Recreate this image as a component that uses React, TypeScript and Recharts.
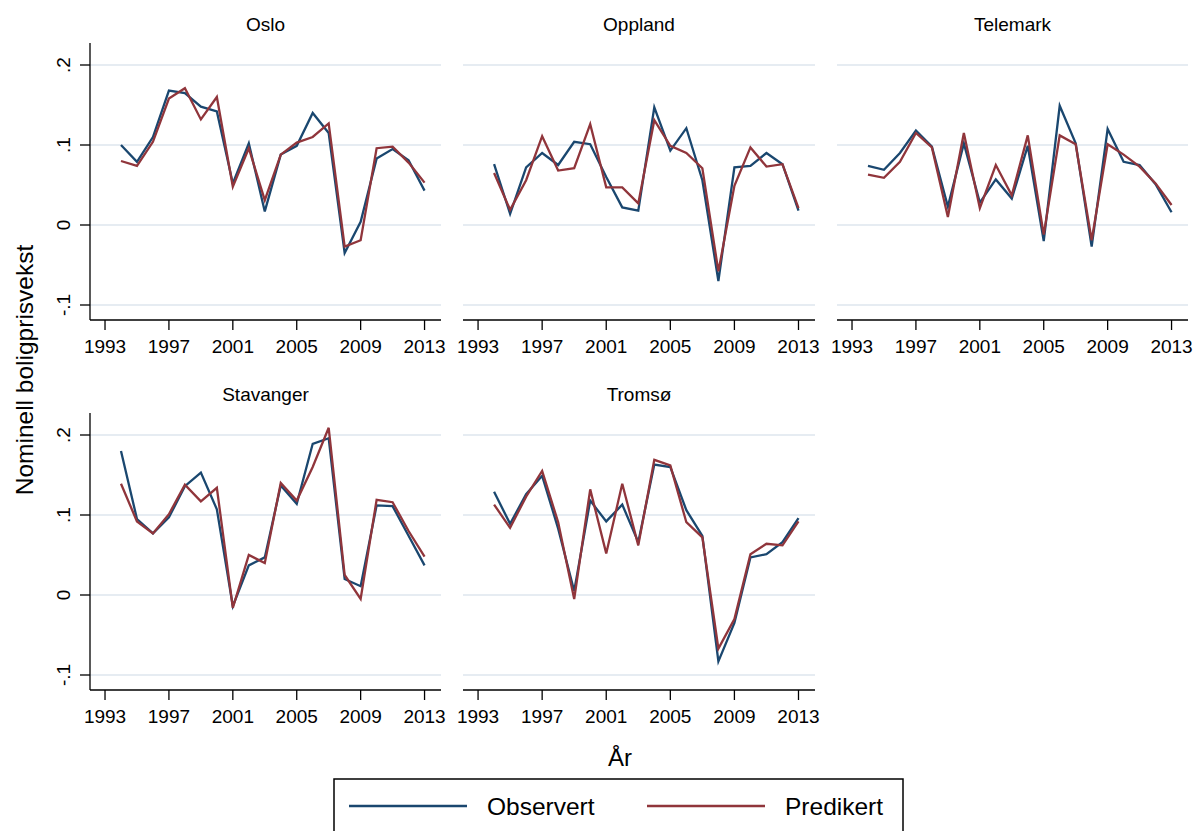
import React from 'react';
import { LineChart, Line, XAxis, YAxis, CartesianGrid } from 'recharts';

const years = [1994, 1995, 1996, 1997, 1998, 1999, 2000, 2001, 2002, 2003, 2004, 2005, 2006, 2007, 2008, 2009, 2010, 2011, 2012, 2013];
const xTicks = [1993, 1997, 2001, 2005, 2009, 2013];
const yTicks = [-0.1, 0, 0.1, 0.2];

const osloObs = [0.1, 0.079, 0.11, 0.168, 0.165, 0.148, 0.142, 0.052, 0.102, 0.017, 0.088, 0.099, 0.14, 0.115, -0.035, 0.004, 0.083, 0.095, 0.081, 0.043];
const osloPred = [0.08, 0.074, 0.104, 0.158, 0.171, 0.132, 0.16, 0.048, 0.096, 0.031, 0.088, 0.103, 0.11, 0.127, -0.027, -0.019, 0.096, 0.098, 0.078, 0.053];

const opplandObs = [0.076, 0.014, 0.072, 0.09, 0.075, 0.104, 0.101, 0.06, 0.022, 0.018, 0.147, 0.093, 0.121, 0.056, -0.07, 0.072, 0.074, 0.09, 0.076, 0.018];
const opplandPred = [0.065, 0.019, 0.056, 0.111, 0.068, 0.071, 0.126, 0.047, 0.047, 0.027, 0.131, 0.099, 0.09, 0.071, -0.058, 0.049, 0.097, 0.073, 0.076, 0.021];

const telemarkObs = [0.074, 0.069, 0.09, 0.118, 0.098, 0.023, 0.102, 0.028, 0.057, 0.033, 0.099, -0.02, 0.149, 0.102, -0.027, 0.12, 0.079, 0.075, 0.051, 0.016];
const telemarkPred = [0.063, 0.059, 0.079, 0.115, 0.097, 0.01, 0.115, 0.021, 0.075, 0.037, 0.112, -0.012, 0.112, 0.101, -0.019, 0.101, 0.088, 0.073, 0.052, 0.025];

const stavangerObs = [0.18, 0.095, 0.077, 0.097, 0.136, 0.153, 0.107, -0.014, 0.037, 0.047, 0.137, 0.114, 0.189, 0.196, 0.02, 0.011, 0.112, 0.111, 0.074, 0.037];
const stavangerPred = [0.139, 0.092, 0.077, 0.101, 0.138, 0.117, 0.134, -0.016, 0.05, 0.04, 0.14, 0.118, 0.16, 0.209, 0.025, -0.005, 0.119, 0.116, 0.08, 0.048];

const tromsoObs = [0.129, 0.089, 0.126, 0.149, 0.083, 0.005, 0.118, 0.092, 0.113, 0.066, 0.163, 0.16, 0.106, 0.074, -0.083, -0.035, 0.047, 0.051, 0.066, 0.096];
const tromsoPred = [0.113, 0.084, 0.123, 0.155, 0.091, -0.005, 0.132, 0.052, 0.139, 0.062, 0.169, 0.162, 0.091, 0.072, -0.067, -0.03, 0.051, 0.064, 0.062, 0.092];

const FONT = '"Liberation Sans", Arial, Helvetica, sans-serif';
const BLUE = '#1a476f';
const RED = '#90353b';
const GRID = '#e6ecf2';

const fmtY = (v: number) => {
  if (v === 0) return '0';
  const s = v.toFixed(1);
  return s.replace('0.', '.');
};

const YTick = (props: any) => {
  const { x, y, payload } = props;
  const bx = x - 10;
  return (
    <text x={bx} y={y} transform={`rotate(-90, ${bx}, ${y})`} textAnchor="middle" fontSize={19} fill="#000" fontFamily={FONT}>
      {fmtY(payload.value)}
    </text>
  );
};

type PanelProps = {
  title: string;
  obs: number[];
  pred: number[];
  left: number;
  top: number;
  width: number;
  showY: boolean;
};

const PAD = 28;

const Panel = ({ title, obs, pred, left, top, width, showY }: PanelProps) => {
  const data = years.map((yr, i) => ({ year: yr, obs: obs[i], pred: pred[i] }));
  const yw = 90;
  const leftSpace = showY ? yw : PAD;
  const chartLeft = left - leftSpace;
  const chartWidth = width + leftSpace + PAD;
  return (
    <div style={{ position: 'absolute', left: chartLeft, top: top }}>
      <div
        style={{
          position: 'absolute',
          left: leftSpace,
          width: width,
          top: 14,
          textAlign: 'center',
          fontFamily: FONT,
          fontSize: 19,
          lineHeight: '22px',
          color: '#000',
        }}
      >
        {title}
      </div>
      <LineChart
        width={chartWidth}
        height={360}
        data={data}
        margin={{ top: 43, right: PAD, bottom: 0, left: showY ? 0 : PAD }}
      >
        <CartesianGrid vertical={false} horizontalValues={yTicks} stroke={GRID} strokeWidth={2} />
        <XAxis
          dataKey="year"
          type="number"
          domain={[1992.06, 2014.03]}
          allowDataOverflow
          ticks={xTicks}
          interval={0}
          height={40}
          tickSize={10}
          tickMargin={10}
          axisLine={{ stroke: '#000', strokeWidth: 1.3 }}
          tickLine={{ stroke: '#000', strokeWidth: 1.3 }}
          tick={{ fontSize: 19, fill: '#000', fontFamily: FONT }}
        />
        <YAxis
          type="number"
          domain={[-0.11875, 0.2275]}
          allowDataOverflow
          ticks={yTicks}
          interval={0}
          width={yw}
          hide={!showY}
          tickSize={10}
          tickMargin={0}
          axisLine={{ stroke: '#000', strokeWidth: 1.3 }}
          tickLine={{ stroke: '#000', strokeWidth: 1.3 }}
          tick={<YTick />}
        />
        <Line type="linear" dataKey="obs" stroke={BLUE} strokeWidth={2.3} dot={false} isAnimationActive={false} />
        <Line type="linear" dataKey="pred" stroke={RED} strokeWidth={2.3} dot={false} isAnimationActive={false} />
      </LineChart>
    </div>
  );
};

export default function App() {
  return (
    <div style={{ position: 'absolute', left: 0, top: 0, width: 1197, height: 831, background: '#fff', overflow: 'hidden', fontFamily: FONT }}>
      <Panel title="Oslo" obs={osloObs} pred={osloPred} left={90} top={0} width={351} showY />
      <Panel title="Oppland" obs={opplandObs} pred={opplandPred} left={463} top={0} width={352} showY={false} />
      <Panel title="Telemark" obs={telemarkObs} pred={telemarkPred} left={837} top={0} width={351} showY={false} />
      <Panel title="Stavanger" obs={stavangerObs} pred={stavangerPred} left={90} top={370} width={351} showY />
      <Panel title="Tromsø" obs={tromsoObs} pred={tromsoPred} left={463} top={370} width={352} showY={false} />

      <svg style={{ position: 'absolute', left: 0, top: 0 }} width={1197} height={831} pointerEvents="none">
        <text x={33} y={370} transform="rotate(-90, 33, 370)" textAnchor="middle" fontSize={24.5} fill="#000" fontFamily={FONT}>
          Nominell boligprisvekst
        </text>
        <text x={620} y={766} textAnchor="middle" fontSize={24} fill="#000" fontFamily={FONT}>
          År
        </text>
        <rect x={334} y={779} width={569} height={70} fill="none" stroke="#000" strokeWidth={1.5} />
        <line x1={349} y1={806} x2={467} y2={806} stroke={BLUE} strokeWidth={2.3} />
        <text x={487} y={815} fontSize={24.5} fill="#000" fontFamily={FONT}>Observert</text>
        <line x1={647} y1={806} x2={765} y2={806} stroke={RED} strokeWidth={2.3} />
        <text x={785} y={815} fontSize={24.5} fill="#000" fontFamily={FONT}>Predikert</text>
      </svg>
    </div>
  );
}
